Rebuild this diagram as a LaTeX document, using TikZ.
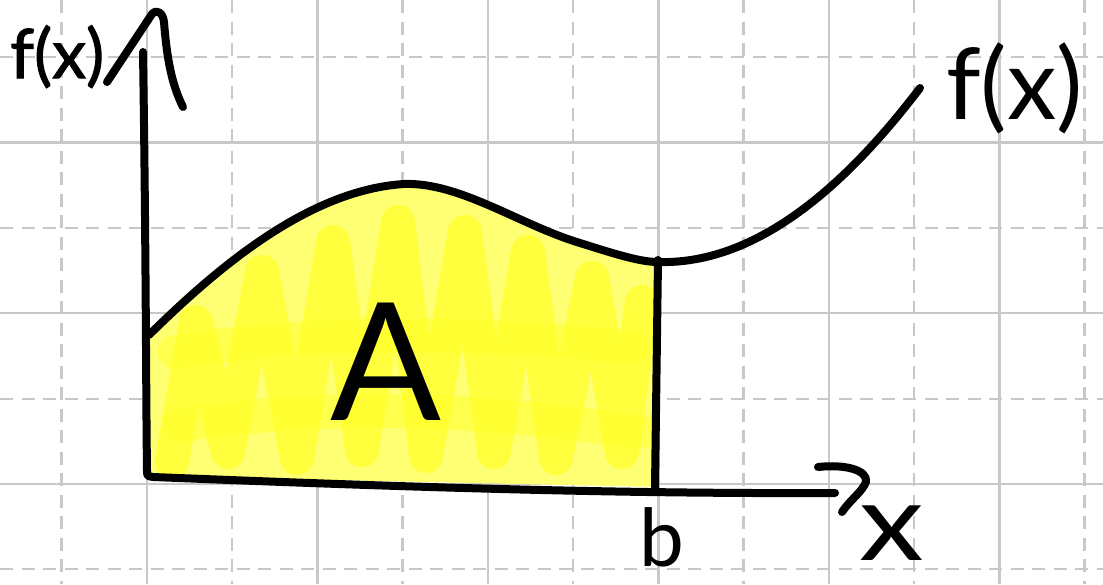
\documentclass[tikz,border=0pt]{standalone}
\usepackage{fontspec}
\setmainfont{Lato}
\newfontfamily\handbold[FakeBold=1.5]{Lato}
\newfontfamily\handwide[FakeStretch=1.2]{Lato}
\definecolor{gridgray}{RGB}{200,200,200}
\definecolor{lightyel}{RGB}{255,255,115}
\definecolor{strongyel}{RGB}{255,255,35}
\tikzset{
  gridsolid/.style={draw=gridgray, line width=2.6pt},
  griddash/.style={draw=gridgray, line width=2.6pt, dash pattern=on 13pt off 8.5pt},
  pen/.style={draw=black, line width=8pt, line cap=round, line join=round},
  scrib/.style={draw=strongyel, opacity=0.65, line width=34pt, line cap=round, line join=round},
  lbl/.style={inner sep=0pt, anchor=base, text=black}
}
\begin{document}
\begin{tikzpicture}[x=1pt,y=-1pt]
\useasboundingbox (0,0) rectangle (1103,584);
\fill[white] (0,0) rectangle (1103,584);
% grid
\foreach \yy in {142.5,313,484} \draw[gridsolid] (0,\yy) -- (1103,\yy);
\foreach \yy in {57,228,399,569} \draw[griddash] (0,\yy) -- (1103,\yy);
\foreach \xx in {147,317.5,488,658.5,829,999.5} \draw[gridsolid] (\xx,0) -- (\xx,584);
\foreach \xx in {61.5,232,402.5,573,743.5,914,1084.5} \draw[griddash] (\xx,0) -- (\xx,584);
% shaded area A
\fill[lightyel] (149,335) .. controls (220,265) and (310,190) .. (404,184) .. controls (460,182) and (520,225) .. (580,243) .. controls (615,254) and (640,262) .. (656,262) -- (656,487) -- (149,476) -- cycle;
\begin{scope}
\clip (149,335) .. controls (220,265) and (310,190) .. (404,184) .. controls (460,182) and (520,225) .. (580,243) .. controls (615,254) and (640,262) .. (656,262) -- (656,487) -- (149,476) -- cycle;
\draw[scrib] (172,462) -- (196,322) -- (228,452) -- (262,272) -- (297,458) -- (333,242) -- (362,450) -- (398,222) -- (426,456) -- (465,232) -- (494,452) -- (528,252) -- (556,458) -- (592,278) -- (622,452) -- (642,302);
\draw[scrib, opacity=0.45] (180,425) .. controls (350,400) and (500,412) .. (640,432);
\draw[scrib, opacity=0.45] (175,352) .. controls (300,332) and (450,330) .. (630,347);
\end{scope}
% curve f(x)
\draw[pen] (149,335) .. controls (220,265) and (310,190) .. (404,184) .. controls (460,182) and (520,225) .. (580,243) .. controls (615,254) and (640,262) .. (658,262) .. controls (760,265) and (850,180) .. (920,88);
% x = b line
\draw[pen] (658,260) -- (655,487);
% axes
\coordinate (ytop) at (143,52);
\coordinate (origin) at (147,470);
\coordinate (xend) at (835,493);
\draw[pen] (ytop) .. controls (146,250) and (146,400) .. (origin) .. controls (147,476) .. (153,477) .. controls (380,486) and (600,494) .. (xend);
% arrow heads
\draw[pen] (107,82) -- (152,14) .. controls (158,8) and (163,14) .. (164,22) .. controls (167,60) and (172,85) .. (183,107);
\draw[pen] (818,467) .. controls (845,464) and (868,470) .. (866,482) .. controls (862,492) and (850,500) .. (842,512);
% labels
\node[lbl, anchor=base west] (fyl) at (10,78) {\handbold\fontsize{68}{68}\selectfont f(x)};
\node[lbl, anchor=base west] (fxr) at (946,119) {\fontsize{99}{99}\selectfont f(x)};
\node[lbl] (areaA) at (386,420) {\fontsize{164}{164}\selectfont A};
\node[lbl] (lblb) at (662,566) {\fontsize{80}{80}\selectfont b};
\node[lbl] (lblx) at (892,560) {\handwide\fontsize{108}{108}\selectfont x};
\end{tikzpicture}
\end{document}
